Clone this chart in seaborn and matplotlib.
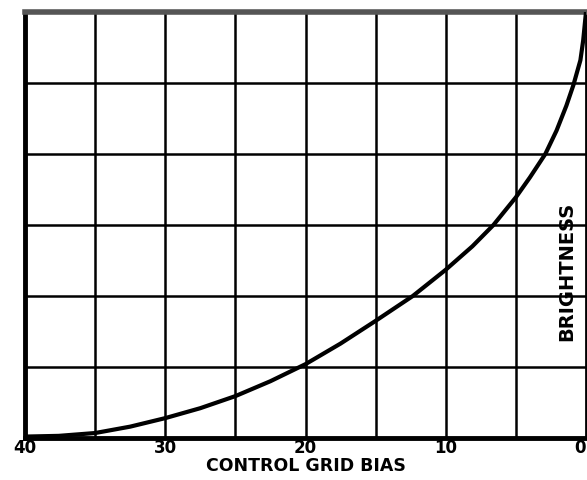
import numpy as np
import pandas as pd
import matplotlib
matplotlib.use('Agg')
import matplotlib.pyplot as plt
import seaborn as sns

bias = [40, 37.6, 35, 32.5, 30, 27.5, 25, 22.5, 20, 17.5, 15, 12.35, 10,
        8.1, 6.6, 5, 4.0, 2.9, 2.1, 1.4, 0.9, 0.4, 0.2, 0]
brightness = [0.02, 0.03, 0.07, 0.16, 0.28, 0.42, 0.59, 0.80, 1.04, 1.33,
              1.65, 2.0, 2.37, 2.70, 3.0, 3.39, 3.67, 4.0, 4.33, 4.68,
              4.97, 5.32, 5.6, 6.0]
tick_vals = [40, 30, 20, 10, 0]
tick_labels = ['40', '30', '20', '10', '0']

df = pd.DataFrame({'bias': bias, 'brightness': brightness})

sns.set_style('white')
plt.rcParams['font.family'] = ['DejaVu Sans']
plt.rcParams['text.color'] = 'black'
plt.rcParams['xtick.color'] = 'black'
plt.rcParams['axes.labelcolor'] = 'black'

fig = plt.figure(figsize=(5.87, 4.8), dpi=100)
ax = fig.add_axes([25 / 587, 42 / 480, 561 / 587, 426 / 480])

sns.lineplot(data=df, x='bias', y='brightness', ax=ax, color='black',
             linewidth=3, zorder=3)

ax.set_xlim(40, 0)
ax.set_ylim(0, 6)

# grid every 5 volts / every row
for xv in range(5, 40, 5):
    ax.axvline(xv, color='black', linewidth=1.8, zorder=1)
for yv in range(1, 6):
    ax.axhline(yv, color='black', linewidth=1.8, zorder=1)

ax.set_xticks(tick_vals)
ax.set_xticklabels(tick_labels, fontsize=12, fontweight='bold')
ax.get_xticklabels()[-1].set_ha('right')
ax.set_yticks([])
ax.tick_params(axis='x', length=0, pad=1)

ax.set_xlabel('CONTROL GRID BIAS', fontsize=12.5, fontweight='bold', labelpad=0)
ax.set_ylabel('')

for side in ['left', 'bottom']:
    ax.spines[side].set_linewidth(3.5)
    ax.spines[side].set_color('black')
ax.spines['top'].set_linewidth(4)
ax.spines['top'].set_color('#555555')
ax.spines['right'].set_linewidth(2)
ax.spines['right'].set_color('black')

ax.text(1.37, 2.34, 'BRIGHTNESS', rotation=90, fontsize=14, fontweight='bold',
        ha='center', va='center', zorder=4)

fig.savefig('out.png', dpi=100)
